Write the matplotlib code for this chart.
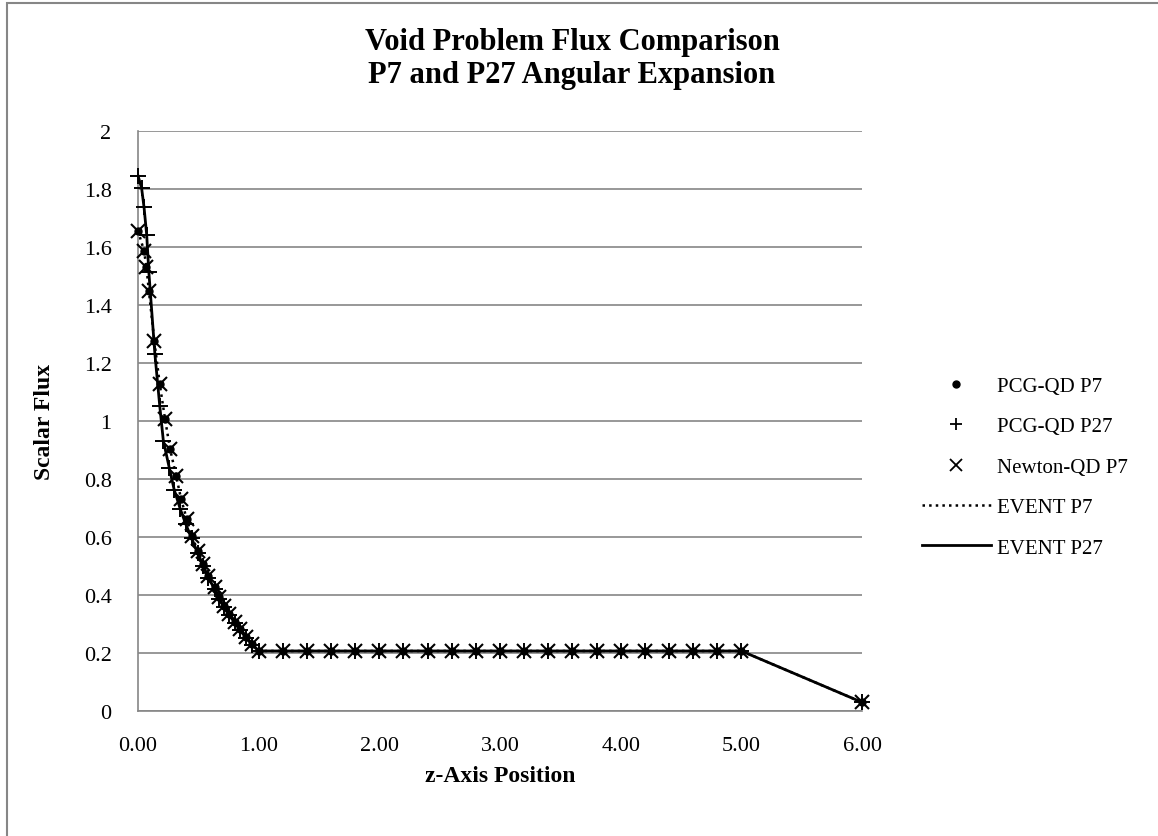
import matplotlib.pyplot as plt
from matplotlib.lines import Line2D
from matplotlib.ticker import FuncFormatter

plt.rcParams["font.family"] = ["Liberation Serif", "DejaVu Serif"]

# values
z_p7 = [0.0, 0.05, 0.07, 0.09, 0.135, 0.18, 0.224, 0.266, 0.316, 0.357,
        0.404, 0.445, 0.495, 0.542, 0.584, 0.634, 0.675, 0.714, 0.758,
        0.806, 0.847, 0.897, 0.944, 1.0,
        1.2, 1.4, 1.6, 1.8, 2.0, 2.2, 2.4, 2.6, 2.8, 3.0, 3.2, 3.4, 3.6,
        3.8, 4.0, 4.2, 4.4, 4.6, 4.8, 5.0, 6.0]
flux_p7 = [1.656, 1.587, 1.53, 1.449, 1.277, 1.128, 1.007, 0.903, 0.811,
           0.731, 0.662, 0.604, 0.553, 0.507, 0.467, 0.426, 0.392, 0.363,
           0.334, 0.306, 0.283, 0.254, 0.231, 0.207,
           0.207, 0.207, 0.207, 0.207, 0.207, 0.207, 0.207, 0.207, 0.207,
           0.207, 0.207, 0.207, 0.207, 0.207, 0.207, 0.207, 0.207, 0.207,
           0.207, 0.207, 0.03]

z_p27 = [0.0, 0.03, 0.05, 0.072, 0.09, 0.14, 0.18, 0.21, 0.26, 0.30, 0.35,
         0.395, 0.445, 0.495, 0.542, 0.584, 0.634, 0.675, 0.714, 0.758,
         0.806, 0.847, 0.897, 0.944, 1.0,
         1.2, 1.4, 1.6, 1.8, 2.0, 2.2, 2.4, 2.6, 2.8, 3.0, 3.2, 3.4, 3.6,
         3.8, 4.0, 4.2, 4.4, 4.6, 4.8, 5.0, 6.0]
flux_p27 = [1.846, 1.803, 1.737, 1.642, 1.513, 1.231, 1.053, 0.932, 0.837,
            0.763, 0.697, 0.645, 0.595, 0.545, 0.50, 0.46, 0.42, 0.387,
            0.357, 0.33, 0.302, 0.278, 0.252, 0.229, 0.207,
            0.207, 0.207, 0.207, 0.207, 0.207, 0.207, 0.207, 0.207, 0.207,
            0.207, 0.207, 0.207, 0.207, 0.207, 0.207, 0.207, 0.207, 0.207,
            0.207, 0.207, 0.03]

labels = ["PCG-QD P7", "PCG-QD P27", "Newton-QD P7", "EVENT P7", "EVENT P27"]

GRID = "#868686"
FS = 16

fig = plt.figure(figsize=(11.58, 8.37), dpi=100)
ax = fig.add_axes([138 / 1158, 1 - 712 / 837, 724 / 1158, 580 / 837])

# chart border (only top/left edges visible in the screenshot)
fig.add_artist(plt.Rectangle((7 / 1158, -0.1), 1.2, 1 - 4 / 837 + 0.1,
                             transform=fig.transFigure, fill=False,
                             ec=GRID, lw=1.5))

ax.plot(z_p7, flux_p7, ls=":", color="black", lw=1.8, zorder=3)
ax.plot(z_p27, flux_p27, ls="-", color="black", lw=2.0, zorder=3)
ax.plot(z_p7, flux_p7, ls="none", marker="o", ms=5, color="black",
        zorder=4, clip_on=False)
ax.plot(z_p27, flux_p27, ls="none", marker="+", ms=11, mew=1.4,
        color="black", zorder=4, clip_on=False)
ax.plot(z_p7, flux_p7, ls="none", marker="x", ms=9.5, mew=1.5,
        color="black", zorder=4, clip_on=False)

ax.set_xlim(0, 6)
ax.set_ylim(0, 2)
ax.set_xticks(range(7))
ax.set_yticks([i * 0.2 for i in range(11)])
ax.xaxis.set_major_formatter(FuncFormatter(lambda v, p: f"{v:.2f}"))
ax.yaxis.set_major_formatter(FuncFormatter(lambda v, p: f"{v:g}"))
ax.tick_params(length=0, labelsize=FS)
ax.tick_params(axis="x", pad=18)
ax.tick_params(axis="y", pad=19)
ax.grid(True, axis="y", color=GRID, lw=1.2)
ax.set_axisbelow(True)
for s in ["top", "right"]:
    ax.spines[s].set_visible(False)
for s in ["left", "bottom"]:
    ax.spines[s].set_color(GRID)
    ax.spines[s].set_linewidth(1.2)

ax.set_xlabel("z-Axis Position", fontsize=17, fontweight="bold", labelpad=7)
ax.set_ylabel("Scalar Flux", fontsize=17, fontweight="bold", labelpad=21)

fig.text(0.494, 1 - 59 / 837, "Void Problem Flux Comparison\nP7 and P27 Angular Expansion",
         ha="center", va="center", fontsize=22, fontweight="bold",
         linespacing=1.18)

handles = [
    Line2D([], [], ls="none", marker="o", ms=5, color="black"),
    Line2D([], [], ls="none", marker="+", ms=9, mew=1.3, color="black"),
    Line2D([], [], ls="none", marker="x", ms=8, mew=1.3, color="black"),
    Line2D([], [], ls=":", lw=1.8, color="black"),
    Line2D([], [], ls="-", lw=2.0, color="black"),
]
fig.legend(handles, labels, loc="center left",
           bbox_to_anchor=(922 / 1158, 1 - 468 / 837), frameon=False,
           fontsize=15, handlelength=3.3, handletextpad=0.3,
           labelspacing=1.0, borderaxespad=0, borderpad=0)

fig.savefig("out.png", dpi=100)
